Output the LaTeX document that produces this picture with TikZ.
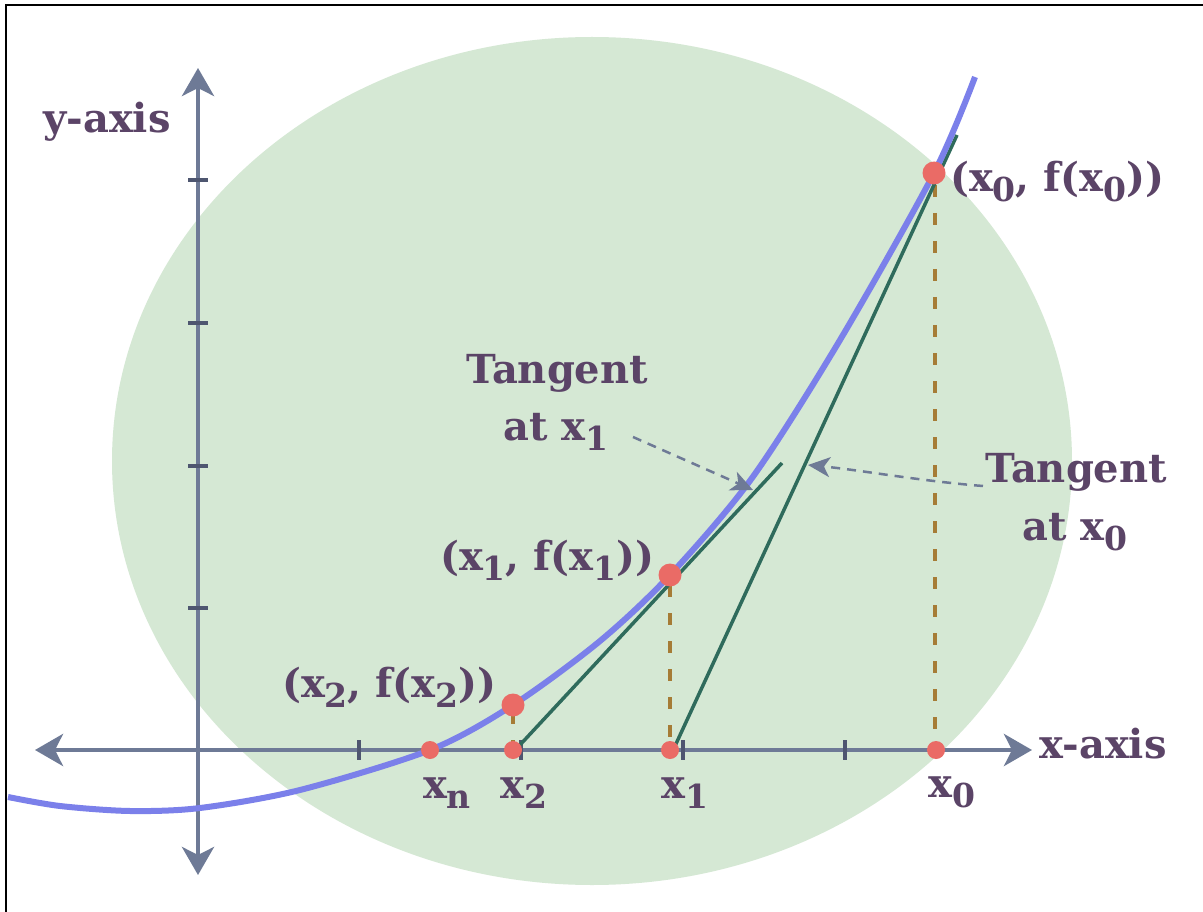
\documentclass[tikz,border=0pt]{standalone}
\usepackage{fontspec}
\setmainfont{DejaVu Serif}
\usetikzlibrary{arrows.meta}
\definecolor{bgreen}{HTML}{D5E8D4}
\definecolor{axisc}{HTML}{6E7A96}
\definecolor{tickc}{HTML}{4E5670}
\definecolor{curvec}{HTML}{7B80EA}
\definecolor{tanc}{HTML}{2F6B5C}
\definecolor{dotc}{HTML}{EA6B66}
\definecolor{brownc}{HTML}{A67C36}
\definecolor{textc}{HTML}{5B4467}
\newcommand\sbs[1]{\raisebox{-10pt}{\fontsize{33}{33}\selectfont #1}}
\begin{document}
\begin{tikzpicture}[x=1pt,y=-1pt,
  lbl/.style={text=textc,font=\fontsize{40}{48}\selectfont\bfseries,inner sep=0pt},
  axisline/.style={draw=axisc,line width=4.5pt,{Stealth[length=28pt,width=32pt,inset=8pt]}-{Stealth[length=28pt,width=32pt,inset=8pt]}},
  ticko/.style={draw=tickc,line width=4pt},
  tangentline/.style={draw=tanc,line width=3.5pt},
  projline/.style={draw=brownc,line width=4pt,dash pattern=on 12pt off 16pt},
  bigdot/.style={circle,fill=dotc,inner sep=0pt,minimum size=23pt},
  smalldot/.style={circle,fill=dotc,inner sep=0pt,minimum size=18pt},
  callout/.style={draw=axisc,line width=2.5pt,dash pattern=on 9pt off 7pt,-{Stealth[length=22pt,width=20pt,inset=6pt]}}
]
\useasboundingbox (0,0) rectangle (1203,912);
\fill[white] (0,0) rectangle (1203,912);
\draw[line width=2.5pt,black] (6,912) -- (6,5) -- (1203,5);
% background ellipse
\fill[bgreen] (592,461) ellipse [x radius=480, y radius=424];
% axes
\coordinate (xl) at (35,750);
\coordinate (xr) at (1032,750);
\coordinate (yt) at (198,68);
\coordinate (yb) at (198,875);
\draw[axisline] (xl) -- (xr);
\draw[axisline] (yb) -- (yt);
\foreach \tx in {359,521,683,845} \draw[ticko] (\tx,740) -- (\tx,760);
\foreach \ty in {180,323,466,608} \draw[ticko] (188,\ty) -- (208,\ty);
% points
\coordinate (c0) at (934,173);
\coordinate (c1) at (670,575);
\coordinate (c2) at (513,705);
% projections
\draw[projline] (935,185) -- (935,750);
\draw[projline] (670,585) -- (670,750);
\draw[projline] (513,712) -- (513,750);
% tangents
\coordinate (t0a) at (957,135);
\coordinate (t0b) at (675,746);
\coordinate (t1a) at (782,463);
\coordinate (t1b) at (519,746);
\draw[tangentline] (t0a) -- (t0b);
\draw[tangentline] (t1a) -- (t1b);
% curve
\draw[curvec,line width=6pt] plot[smooth] coordinates {(8,797) (60,806) (130,811) (200,808) (300,790) (430,750) (513,705) (600,641) (670,575) (752,478) (840,340) (934,173) (975,77)};
% dots
\node[bigdot] (p0) at (c0) {};
\node[bigdot] (p1) at (c1) {};
\node[bigdot] (p2) at (c2) {};
\node[smalldot] (an) at (430,750) {};
\node[smalldot] (a2) at (513,750) {};
\node[smalldot] (a1) at (670,750) {};
\node[smalldot] (a0) at (936,750) {};
% labels
\node[lbl,anchor=base] (ylab) at (107,133) {y-axis};
\node[lbl,anchor=base] (xlab) at (1103,758) {x-axis};
\node[lbl,anchor=base west] (l0) at (950,192) {(x\sbs{0}, f(x\sbs{0}))};
\node[lbl,anchor=base west] (l1) at (440,570) {(x\sbs{1}, f(x\sbs{1}))};
\node[lbl,anchor=base west] (l2) at (282,697) {(x\sbs{2}, f(x\sbs{2}))};
\node[lbl,anchor=base] (lxn) at (447,798) {x\sbs{n}};
\node[lbl,anchor=base] (lx2) at (524,798) {x\sbs{2}};
\node[lbl,anchor=base] (lx1) at (685,798) {x\sbs{1}};
\node[lbl,anchor=base] (lx0) at (952,797) {x\sbs{0}};
\node[lbl,anchor=base] (ta1) at (557,383) {Tangent};
\node[lbl,anchor=base] (tb1) at (556,440) {at x\sbs{1}};
\node[lbl,anchor=base] (ta0) at (1076,482) {Tangent};
\node[lbl,anchor=base] (tb0) at (1075,540) {at x\sbs{0}};
% callouts
\coordinate (k1s) at (633,437);
\coordinate (k1e) at (753,490);
\coordinate (k0s) at (983,486);
\coordinate (k0e) at (808,465);
\draw[callout] (k1s) -- (k1e);
\draw[callout] (k0s) .. controls (920,481) and (860,470) .. (k0e);
\end{tikzpicture}
\end{document}
